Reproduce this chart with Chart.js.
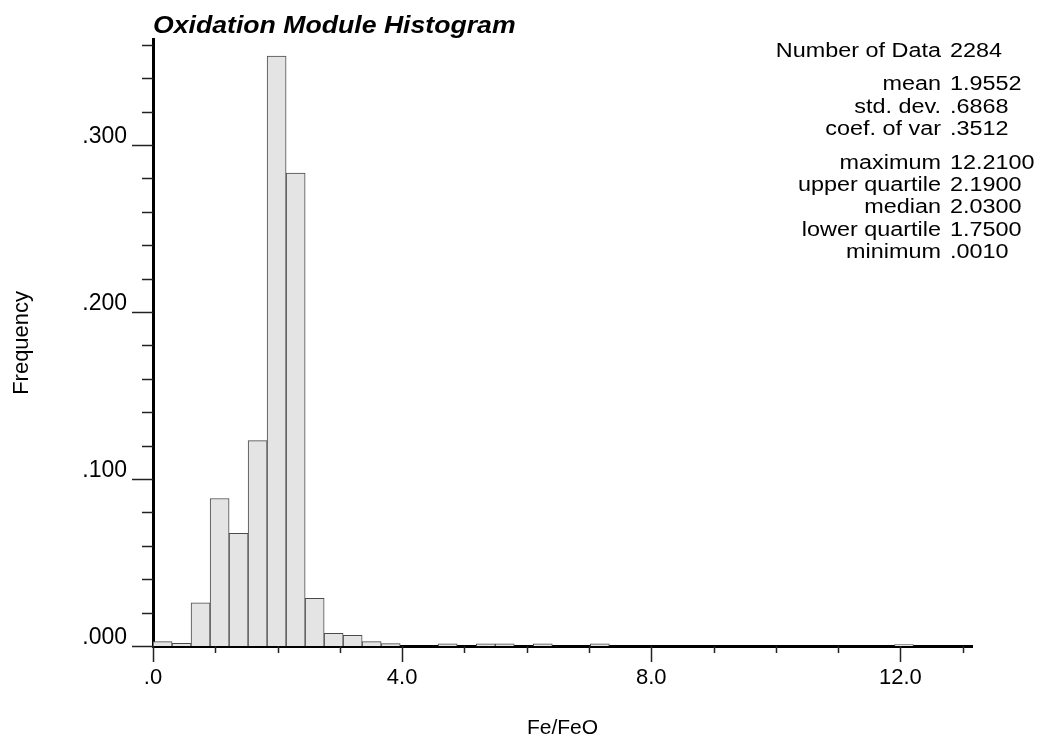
<!DOCTYPE html>
<html>
<head>
<meta charset="utf-8">
<title>Oxidation Module Histogram</title>
<script src="https://cdn.jsdelivr.net/npm/chart.js@4.4.1/dist/chart.umd.min.js"></script>
<style>
  html, body { margin: 0; padding: 0; background: #fff; }
  canvas { display: block; }
</style>
</head>
<body>
<canvas id="myChartHistograma" width="1046" height="741"></canvas>
<script>
// lower edge of each class (40 classes from minimum to maximum)
const binStart = [
    0.001, 0.306, 0.611, 0.917, 1.222, 1.527, 1.832, 2.138, 2.443, 2.748,
    3.053, 3.358, 3.664, 3.969, 4.274, 4.579, 4.885, 5.190, 5.495, 5.800,
    6.106, 6.411, 6.716, 7.021, 7.327, 7.632, 7.937, 8.242, 8.547, 8.853,
    9.158, 9.463, 9.768, 10.074, 10.379, 10.684, 10.989, 11.295, 11.600, 11.905
]
const binWidth = 0.3052

// relative frequency of each class
const frecuencias = [
    0.0026, 0.0016, 0.0259, 0.0883, 0.0674, 0.1230, 0.3533, 0.2832, 0.0285, 0.0076,
    0.0064, 0.0026, 0.0014, 0, 0, 0.0013, 0, 0.0013, 0.0013, 0,
    0.0013, 0, 0, 0.0013, 0, 0, 0, 0, 0, 0,
    0, 0, 0, 0, 0, 0, 0, 0, 0, 0.0009
]

const xMajor = [0, 4, 8, 12]
const xMajorLabels = ['.0', '4.0', '8.0', '12.0']
const yMajor = [0, 0.1, 0.2, 0.3]
const yMajorLabels = ['.000', '.100', '.200', '.300']

const statLabels = ['Number of Data', 'mean', 'std. dev.', 'coef. of var',
    'maximum', 'upper quartile', 'median', 'lower quartile', 'minimum']
const statValues = ['2284', '1.9552', '.6868', '.3512',
    '12.2100', '2.1900', '2.0300', '1.7500', '.0010']

const FONT = "'Liberation Sans', Arial, sans-serif"

const majorIndex = (list, v) => list.findIndex(m => Math.abs(m - v) < 1e-6)

// texto algo ensanchado, como el de la salida original del programa
const textoAncho = (ctx, txt, x, y, align, stretch) => {
    ctx.save()
    ctx.translate(x, y)
    ctx.scale(stretch, 1)
    ctx.textAlign = align
    ctx.fillText(txt, 0, 0)
    ctx.restore()
}

// titulo y tabla de estadisticas
const textoPlugin = {
    id: 'textoHistograma',
    afterDraw(chart) {
        const ctx = chart.ctx
        ctx.save()
        ctx.fillStyle = '#000'
        ctx.textBaseline = 'alphabetic'
        ctx.font = `italic bold 24px ${FONT}`
        textoAncho(ctx, 'Oxidation Module Histogram', chart.chartArea.left, 33, 'left', 1.11)

        ctx.font = `20px ${FONT}`
        let y = 57
        statLabels.forEach((label, i) => {
            if (i === 1 || i === 4) y += 11
            textoAncho(ctx, label, 941, y, 'right', 1.17)
            textoAncho(ctx, statValues[i], 950, y, 'left', 1.17)
            y += 22.4
        })
        ctx.restore()
    }
}

// marcas de los ejes: largas en las mayores, cortas en las menores
const marcasPlugin = {
    id: 'marcasEjes',
    afterDraw(chart) {
        const {ctx, chartArea, scales: {x, y}} = chart
        ctx.save()
        ctx.strokeStyle = '#222'
        ctx.lineWidth = 1.5
        ctx.beginPath()
        y.ticks.forEach(t => {
            const py = Math.round(y.getPixelForValue(t.value)) + 0.5
            const len = majorIndex(yMajor, t.value) >= 0 ? 21 : 11
            ctx.moveTo(chartArea.left - len, py)
            ctx.lineTo(chartArea.left, py)
        })
        x.ticks.forEach(t => {
            const px = Math.round(x.getPixelForValue(t.value)) + 0.5
            const len = majorIndex(xMajor, t.value) >= 0 ? 16 : 7
            ctx.moveTo(px, chartArea.bottom)
            ctx.lineTo(px, chartArea.bottom + len)
        })
        ctx.stroke()
        ctx.restore()
    }
}

const renderHistograma = () => {
    const puntos = binStart.map((b, i) => ({x: b + binWidth / 2, y: frecuencias[i]}))
    const data = {
        datasets: [{
            data: puntos,
            backgroundColor: '#e4e4e4',
            borderColor: '#4a4a4a',
            borderWidth: 1,
            barPercentage: 1,
            categoryPercentage: 1
        }]
    }
    const options = {
        responsive: false,
        animation: false,
        layout: {padding: {left: 0, right: 74, top: 39, bottom: 0}},
        plugins: {
            legend: {display: false},
            tooltip: {enabled: false},
            title: {display: false}
        },
        scales: {
            x: {
                type: 'linear',
                offset: false,
                min: 0,
                max: 13.15,
                afterFit: s => { s.height = 95 },
                grid: {display: false, drawTicks: false, offset: false},
                border: {display: true, color: '#000', width: 3},
                ticks: {
                    stepSize: 1,
                    includeBounds: false,
                    autoSkip: false,
                    maxRotation: 0,
                    padding: 19,
                    color: '#000',
                    font: {family: FONT, size: 22},
                    callback: v => {
                        const i = majorIndex(xMajor, v)
                        return i >= 0 ? xMajorLabels[i] : ''
                    }
                },
                title: {
                    display: true,
                    text: 'Fe/FeO',
                    color: '#000',
                    font: {family: FONT, size: 21},
                    padding: {top: 0, bottom: 0}
                }
            },
            y: {
                type: 'linear',
                min: 0,
                max: 0.363,
                afterFit: s => { s.width = 153 },
                grid: {display: false, drawTicks: false},
                border: {display: true, color: '#000', width: 3},
                ticks: {
                    stepSize: 0.02,
                    includeBounds: false,
                    autoSkip: false,
                    padding: 26,
                    labelOffset: -8,
                    color: '#000',
                    font: {family: FONT, size: 23},
                    callback: v => {
                        const i = majorIndex(yMajor, v)
                        return i >= 0 ? yMajorLabels[i] : ''
                    }
                },
                title: {
                    display: true,
                    text: 'Frequency',
                    color: '#000',
                    font: {family: FONT, size: 22},
                    padding: {top: 9, bottom: 0}
                }
            }
        }
    }
    new Chart('myChartHistograma', {type: 'bar', data, options, plugins: [marcasPlugin, textoPlugin]})
}

renderHistograma()
</script>
</body>
</html>
